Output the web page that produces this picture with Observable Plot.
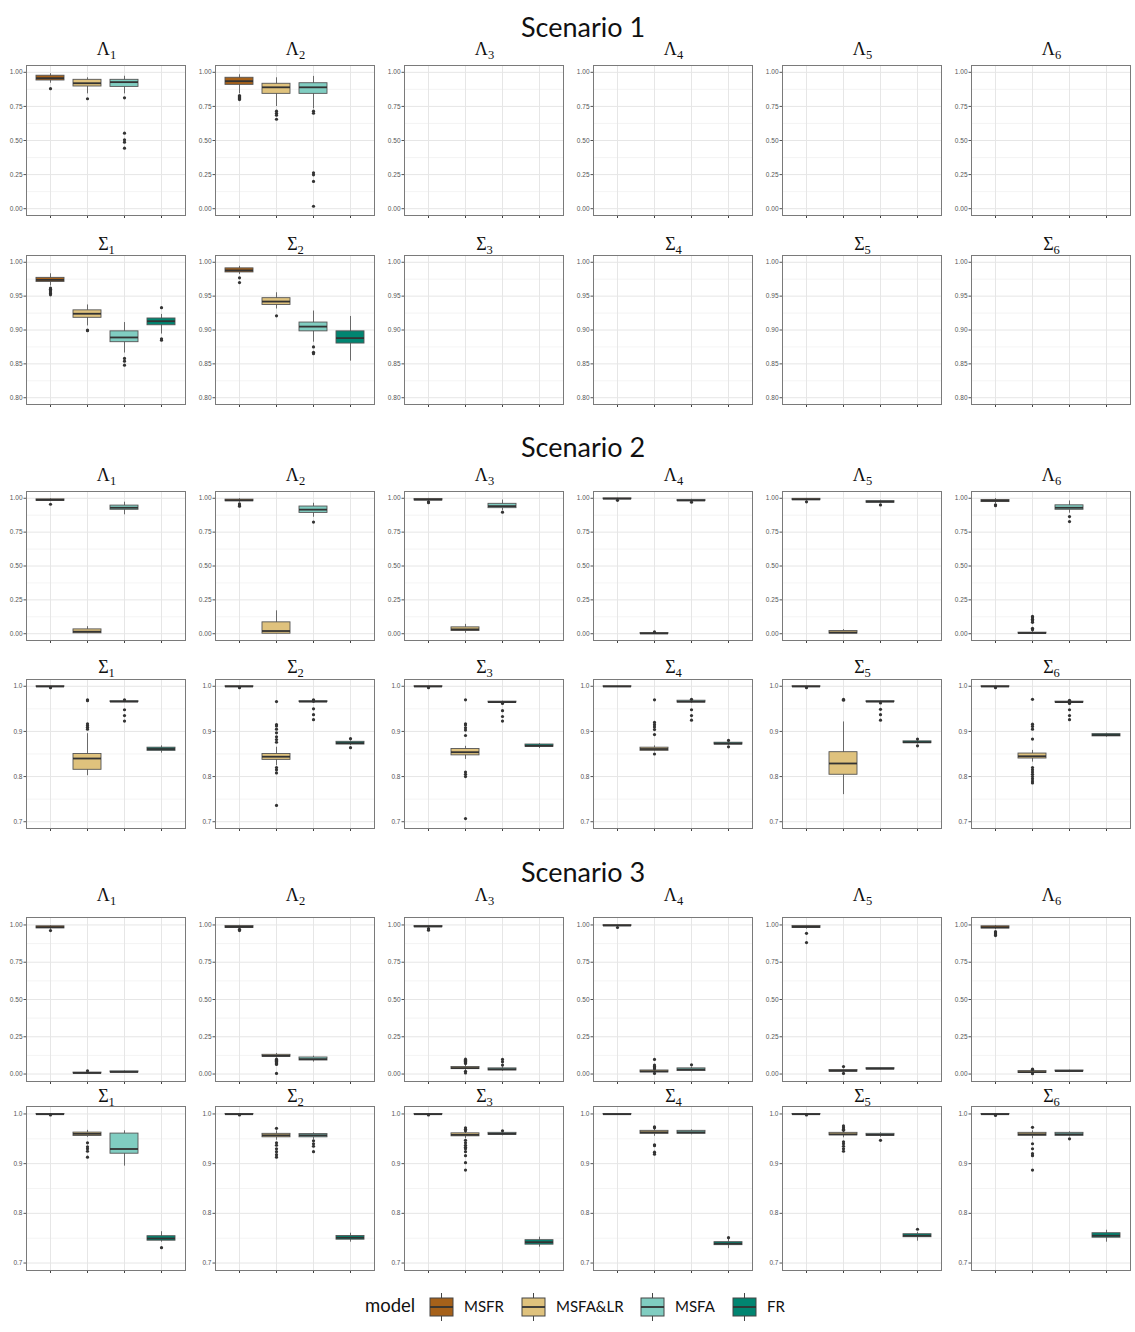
<!DOCTYPE html>
<html>
<head>
<meta charset="utf-8">
<script src="https://cdn.jsdelivr.net/npm/d3@7"></script>
<script src="https://cdn.jsdelivr.net/npm/@observablehq/plot@0.6"></script>
<style>
  body { margin: 0; background: #fff; }
  #root { position: relative; width: 1135px; height: 1332px; overflow: hidden; background: #fff; }
  .panel { position: absolute; }
  #overlay { position: absolute; left: 0; top: 0; pointer-events: none; }
</style>
</head>
<body>
<div id="root"></div>
<script>
// ---------- categories & styling ----------
const models = ["MSFR", "MSFA&LR", "MSFA", "FR"];
const colors = ["#a6611a", "#dfc27d", "#80cdc1", "#018571"];
const scenarios = ["Scenario 1", "Scenario 2", "Scenario 3"];
const panelIds = [1, 2, 3, 4, 5, 6];

// ---------- tick labels ----------
const lambdaTicks = [0, 0.25, 0.5, 0.75, 1];
const lambdaMinor = [0.125, 0.375, 0.625, 0.875];
const sigmaTicksS1 = [0.80, 0.85, 0.90, 0.95, 1.00];
const sigmaMinorS1 = [0.825, 0.875, 0.925, 0.975];
const sigmaTicks = [0.7, 0.8, 0.9, 1.0];
const sigmaMinor = [0.75, 0.85, 0.95];

// ---------- box statistics: [panel, model, lower whisker, q1, median, q3, upper whisker, outliers] ----------
const s1Lambda = [
  [1, "MSFR", 0.92, 0.94, 0.957, 0.975, 0.99, [0.88]],
  [1, "MSFA&LR", 0.842, 0.896, 0.92, 0.945, 0.96, [0.806]],
  [1, "MSFA", 0.842, 0.893, 0.928, 0.945, 0.971, [0.813, 0.554, 0.505, 0.488, 0.444]],
  [2, "MSFR", 0.842, 0.908, 0.935, 0.96, 0.982, [0.83, 0.822, 0.815, 0.808, 0.80]],
  [2, "MSFA&LR", 0.749, 0.842, 0.89, 0.916, 0.96, [0.715, 0.70, 0.686, 0.656]],
  [2, "MSFA", 0.732, 0.842, 0.89, 0.92, 0.97, [0.715, 0.70, 0.263, 0.248, 0.20, 0.018]]
];
const s1Sigma = [
  [1, "MSFR", 0.965, 0.971, 0.974, 0.977, 0.983, [0.962, 0.960, 0.958, 0.956, 0.954, 0.952]],
  [1, "MSFA&LR", 0.906, 0.918, 0.924, 0.929, 0.937, [0.900, 0.899]],
  [1, "MSFA", 0.866, 0.882, 0.889, 0.898, 0.911, [0.858, 0.854, 0.848]],
  [1, "FR", 0.894, 0.907, 0.913, 0.917, 0.923, [0.933, 0.887, 0.885]],
  [2, "MSFR", 0.982, 0.985, 0.988, 0.991, 0.994, [0.977, 0.970]],
  [2, "MSFA&LR", 0.931, 0.937, 0.942, 0.947, 0.955, [0.921]],
  [2, "MSFA", 0.882, 0.898, 0.905, 0.911, 0.928, [0.875, 0.867, 0.865]],
  [2, "FR", 0.854, 0.880, 0.888, 0.898, 0.920, []]
];
const s2Lambda = [
  [1, "MSFR", 0.975, 0.981, 0.988, 0.992, 0.997, [0.956]],
  [1, "MSFA&LR", 0.0, 0.003, 0.015, 0.032, 0.052, []],
  [1, "MSFA", 0.878, 0.915, 0.930, 0.946, 0.971, []],
  [2, "MSFR", 0.97, 0.978, 0.985, 0.99, 0.997, [0.958, 0.945, 0.942]],
  [2, "MSFA&LR", 0.0, 0.0, 0.02, 0.084, 0.169, []],
  [2, "MSFA", 0.86, 0.892, 0.916, 0.939, 0.963, [0.824]],
  [3, "MSFR", 0.978, 0.984, 0.99, 0.995, 0.999, [0.974, 0.967]],
  [3, "MSFA&LR", 0.003, 0.02, 0.032, 0.047, 0.069, []],
  [3, "MSFA", 0.91, 0.927, 0.942, 0.959, 0.987, [0.897]],
  [4, "MSFR", 0.99, 0.993, 0.997, 0.999, 1.0, [0.985]],
  [4, "MSFA&LR", 0.0, 0.0, 0.002, 0.005, 0.01, [0.013]],
  [4, "MSFA", 0.975, 0.979, 0.984, 0.988, 0.993, [0.971]],
  [5, "MSFR", 0.98, 0.986, 0.992, 0.996, 0.999, [0.974]],
  [5, "MSFA&LR", 0.0, 0.001, 0.009, 0.02, 0.03, []],
  [5, "MSFA", 0.96, 0.967, 0.975, 0.979, 0.985, [0.951]],
  [6, "MSFR", 0.96, 0.972, 0.982, 0.987, 0.998, [0.952, 0.945]],
  [6, "MSFA&LR", 0.0, 0.001, 0.005, 0.008, 0.02, [0.128, 0.118, 0.106, 0.096, 0.084, 0.04, 0.03]],
  [6, "MSFA", 0.89, 0.915, 0.93, 0.948, 0.98, [0.865, 0.828]]
];
const s2Sigma = [
  [1, "MSFR", 0.998, 0.999, 0.9995, 1.0, 1.0, [0.997]],
  [1, "MSFA&LR", 0.802, 0.815, 0.84, 0.85, 0.895, [0.97, 0.968, 0.917, 0.913, 0.909, 0.905]],
  [1, "MSFA", 0.964, 0.965, 0.966, 0.967, 0.968, [0.970, 0.948, 0.935, 0.923]],
  [1, "FR", 0.852, 0.857, 0.861, 0.864, 0.868, []],
  [2, "MSFR", 0.998, 0.999, 0.9995, 1.0, 1.0, [0.997]],
  [2, "MSFA&LR", 0.824, 0.837, 0.844, 0.85, 0.865, [0.966, 0.915, 0.912, 0.905, 0.897, 0.888, 0.882, 0.876, 0.82, 0.815, 0.808, 0.736]],
  [2, "MSFA", 0.963, 0.965, 0.966, 0.967, 0.968, [0.970, 0.967, 0.95, 0.937, 0.926]],
  [2, "FR", 0.869, 0.871, 0.874, 0.877, 0.879, [0.884, 0.864]],
  [3, "MSFR", 0.998, 0.999, 0.9995, 1.0, 1.0, [0.997]],
  [3, "MSFA&LR", 0.838, 0.847, 0.854, 0.861, 0.867, [0.97, 0.917, 0.914, 0.908, 0.903, 0.891, 0.81, 0.805, 0.80, 0.707]],
  [3, "MSFA", 0.963, 0.964, 0.965, 0.966, 0.967, [0.962, 0.946, 0.933, 0.923]],
  [3, "FR", 0.862, 0.866, 0.868, 0.871, 0.873, []],
  [4, "MSFR", 0.998, 0.999, 0.9995, 1.0, 1.0, []],
  [4, "MSFA&LR", 0.855, 0.857, 0.861, 0.864, 0.868, [0.97, 0.92, 0.915, 0.91, 0.904, 0.893, 0.85]],
  [4, "MSFA", 0.962, 0.964, 0.966, 0.968, 0.969, [0.971, 0.948, 0.935, 0.925]],
  [4, "FR", 0.869, 0.871, 0.873, 0.875, 0.877, [0.88, 0.866]],
  [5, "MSFR", 0.998, 0.999, 0.9995, 1.0, 1.0, [0.997]],
  [5, "MSFA&LR", 0.76, 0.804, 0.829, 0.854, 0.921, [0.971, 0.969]],
  [5, "MSFA", 0.964, 0.965, 0.966, 0.967, 0.968, [0.963, 0.949, 0.937, 0.925]],
  [5, "FR", 0.872, 0.874, 0.876, 0.878, 0.88, [0.883, 0.868]],
  [6, "MSFR", 0.998, 0.999, 0.9995, 1.0, 1.0, [0.997]],
  [6, "MSFA&LR", 0.832, 0.84, 0.845, 0.851, 0.858, [0.971, 0.916, 0.911, 0.905, 0.883, 0.82, 0.815, 0.81, 0.805, 0.80, 0.795, 0.79, 0.786]],
  [6, "MSFA", 0.963, 0.964, 0.965, 0.966, 0.968, [0.969, 0.962, 0.948, 0.935, 0.926]],
  [6, "FR", 0.887, 0.889, 0.892, 0.894, 0.896, []]
];
const s3Lambda = [
  [1, "MSFR", 0.97, 0.977, 0.985, 0.991, 0.995, [0.962]],
  [1, "MSFA&LR", 0.0, 0.004, 0.007, 0.01, 0.016, [0.022]],
  [1, "MSFA", 0.008, 0.011, 0.014, 0.018, 0.022, []],
  [2, "MSFR", 0.975, 0.98, 0.987, 0.993, 0.998, [0.971, 0.962]],
  [2, "MSFA&LR", 0.108, 0.116, 0.122, 0.129, 0.138, [0.1, 0.092, 0.085, 0.078, 0.07, 0.064, 0.004]],
  [2, "MSFA", 0.08, 0.091, 0.1, 0.111, 0.12, []],
  [3, "MSFR", 0.98, 0.985, 0.99, 0.993, 0.997, [0.975, 0.965]],
  [3, "MSFA&LR", 0.025, 0.033, 0.04, 0.047, 0.058, [0.1, 0.092, 0.085, 0.078, 0.07, 0.018, 0.007]],
  [3, "MSFA", 0.018, 0.024, 0.032, 0.038, 0.048, [0.098, 0.082, 0.06]],
  [4, "MSFR", 0.99, 0.993, 0.996, 0.999, 1.0, [0.983]],
  [4, "MSFA&LR", 0.008, 0.011, 0.018, 0.024, 0.03, [0.098, 0.06, 0.05, 0.042, 0.035, 0.004]],
  [4, "MSFA", 0.015, 0.02, 0.03, 0.038, 0.045, [0.062]],
  [5, "MSFR", 0.972, 0.98, 0.987, 0.993, 0.998, [0.944, 0.882]],
  [5, "MSFA&LR", 0.012, 0.016, 0.022, 0.027, 0.032, [0.05, 0.004]],
  [5, "MSFA", 0.029, 0.031, 0.036, 0.04, 0.042, []],
  [6, "MSFR", 0.968, 0.976, 0.984, 0.991, 0.997, [0.955, 0.948, 0.941, 0.935, 0.929]],
  [6, "MSFA&LR", 0.004, 0.007, 0.013, 0.02, 0.025, [0.033, 0.028, 0.002]],
  [6, "MSFA", 0.016, 0.018, 0.02, 0.024, 0.026, []]
];
const s3Sigma = [
  [1, "MSFR", 0.998, 0.999, 0.9995, 1.0, 1.0, [0.998]],
  [1, "MSFA&LR", 0.953, 0.9557, 0.96, 0.9625, 0.967, [0.942, 0.934, 0.93, 0.925, 0.913]],
  [1, "MSFA", 0.895, 0.92, 0.9295, 0.9605, 0.966, []],
  [1, "FR", 0.742, 0.745, 0.7495, 0.754, 0.763, [0.731]],
  [2, "MSFR", 0.998, 0.999, 0.9995, 1.0, 1.0, [0.998]],
  [2, "MSFA&LR", 0.947, 0.953, 0.957, 0.96, 0.966, [0.971, 0.942, 0.937, 0.93, 0.924, 0.918, 0.913]],
  [2, "MSFA", 0.948, 0.953, 0.957, 0.9595, 0.962, [0.946, 0.94, 0.935, 0.924]],
  [2, "FR", 0.742, 0.747, 0.751, 0.7545, 0.76, []],
  [3, "MSFR", 0.998, 0.999, 0.9995, 1.0, 1.0, [0.998]],
  [3, "MSFA&LR", 0.95, 0.955, 0.958, 0.961, 0.964, [0.972, 0.969, 0.966, 0.947, 0.942, 0.937, 0.933, 0.93, 0.924, 0.916, 0.902, 0.887]],
  [3, "MSFA", 0.956, 0.958, 0.96, 0.962, 0.964, [0.966]],
  [3, "FR", 0.732, 0.737, 0.742, 0.746, 0.752, []],
  [4, "MSFR", 0.998, 0.999, 0.9995, 1.0, 1.0, []],
  [4, "MSFA&LR", 0.955, 0.96, 0.963, 0.966, 0.969, [0.974, 0.972, 0.938, 0.936, 0.923, 0.919]],
  [4, "MSFA", 0.958, 0.96, 0.963, 0.966, 0.968, []],
  [4, "FR", 0.729, 0.736, 0.739, 0.742, 0.749, [0.751]],
  [5, "MSFR", 0.998, 0.999, 0.9995, 1.0, 1.0, [0.998]],
  [5, "MSFA&LR", 0.952, 0.957, 0.959, 0.962, 0.965, [0.976, 0.972, 0.969, 0.967, 0.944, 0.94, 0.935, 0.93, 0.925]],
  [5, "MSFA", 0.953, 0.956, 0.958, 0.96, 0.962, [0.947]],
  [5, "FR", 0.744, 0.752, 0.755, 0.758, 0.762, [0.768]],
  [6, "MSFR", 0.998, 0.999, 0.9995, 1.0, 1.0, [0.997]],
  [6, "MSFA&LR", 0.95, 0.956, 0.959, 0.962, 0.966, [0.973, 0.94, 0.93, 0.92, 0.916, 0.887]],
  [6, "MSFA", 0.954, 0.956, 0.959, 0.962, 0.964, [0.95]],
  [6, "FR", 0.742, 0.751, 0.755, 0.76, 0.766, []]
];

// ---------- layout ----------
const colLeft = [26, 215, 404, 593, 782, 971];
const frameW = 159;
const rowsSpec = [
  { rows: s1Lambda, sym: "Λ", top: 65,   h: 150, titleY: 55,   domain: [-0.05, 1.05],  ticks: lambdaTicks,  minor: lambdaMinor,  fmt: ".2f" },
  { rows: s1Sigma,  sym: "Σ", top: 255,  h: 149, titleY: 250,  domain: [0.79, 1.01],   ticks: sigmaTicksS1, minor: sigmaMinorS1, fmt: ".2f" },
  { rows: s2Lambda, sym: "Λ", top: 491,  h: 149, titleY: 481,  domain: [-0.05, 1.05],  ticks: lambdaTicks,  minor: lambdaMinor,  fmt: ".2f" },
  { rows: s2Sigma,  sym: "Σ", top: 679,  h: 149, titleY: 673,  domain: [0.685, 1.015], ticks: sigmaTicks,   minor: sigmaMinor,   fmt: ".1f" },
  { rows: s3Lambda, sym: "Λ", top: 917,  h: 164, titleY: 901,  domain: [-0.05, 1.05],  ticks: lambdaTicks,  minor: lambdaMinor,  fmt: ".2f" },
  { rows: s3Sigma,  sym: "Σ", top: 1106, h: 164, titleY: 1102, domain: [0.685, 1.015], ticks: sigmaTicks,   minor: sigmaMinor,   fmt: ".1f" }
];
const scenarioY = [37, 457, 882];

const root = document.getElementById("root");
const ML = 26, MR = 4, MT = 2, MB = 7;

function drawPanel(spec, p, ci) {
  const data = spec.rows.filter(r => r[0] === p).map(r => ({
    model: r[1], lo: r[2], q1: r[3], med: r[4], q3: r[5], hi: r[6], out: r[7]
  }));
  const outs = data.flatMap(d => d.out.map(v => ({ model: d.model, v })));
  const svg = Plot.plot({
    width: ML + frameW + MR,
    height: MT + spec.h + MB,
    marginLeft: ML, marginRight: MR, marginTop: MT, marginBottom: MB,
    x: { domain: models, paddingInner: 0.25, paddingOuter: 0.225 },
    y: { domain: spec.domain },
    color: { domain: models, range: colors },
    style: { background: "transparent", overflow: "visible", fontFamily: "'Liberation Sans', Arial, sans-serif" },
    marks: [
      Plot.gridY(spec.minor, { stroke: "#ececec", strokeOpacity: 1, strokeWidth: 0.6 }),
      Plot.gridY(spec.ticks, { stroke: "#e6e6e6", strokeOpacity: 1, strokeWidth: 1 }),
      Plot.gridX(models, { stroke: "#e6e6e6", strokeOpacity: 1, strokeWidth: 1 }),
      Plot.ruleX(data, { x: "model", y1: "lo", y2: "hi", stroke: "#4a4a4a", strokeWidth: 0.8 }),
      Plot.barY(data, { x: "model", y1: "q1", y2: "q3", fill: "model", stroke: "#555", strokeWidth: 0.9 }),
      Plot.tickY(data, { x: "model", y: "med", stroke: "#333", strokeWidth: 1.8 }),
      Plot.dot(outs, { x: "model", y: "v", r: 1.6, fill: "#333", stroke: "none" }),
      Plot.axisY(spec.ticks, { tickFormat: d3.format(spec.fmt), tickSize: 2.5, tickPadding: 1.5, fontSize: 6.5, color: "#555", label: null }),
      Plot.axisX(models, { tickSize: 3, tickFormat: () => "", color: "#444", label: null }),
      Plot.frame({ stroke: "#7a7a7a", strokeWidth: 1 })
    ]
  });
  svg.querySelectorAll('g[aria-label="x-axis tick label"]').forEach(g => g.remove());
  svg.classList.add("panel");
  svg.style.left = (colLeft[ci] - ML) + "px";
  svg.style.top = (spec.top - MT) + "px";
  root.appendChild(svg);
}

rowsSpec.forEach(spec => panelIds.forEach((p, ci) => drawPanel(spec, p, ci)));

// ---------- overlay: titles, panel labels, legend ----------
const ov = d3.select(root).append("svg").attr("id", "overlay").attr("width", 1135).attr("height", 1332);

scenarios.forEach((s, i) => {
  ov.append("text").attr("x", 583).attr("y", scenarioY[i]).attr("text-anchor", "middle")
    .attr("font-family", "Lato, 'Open Sans', sans-serif").attr("font-size", 27).attr("fill", "#111").text(s);
});

rowsSpec.forEach(spec => {
  panelIds.forEach((p, ci) => {
    const t = ov.append("text").attr("x", colLeft[ci] + frameW / 2 + 1).attr("y", spec.titleY)
      .attr("text-anchor", "middle").attr("font-family", "'Liberation Serif', 'DejaVu Serif', serif")
      .attr("font-size", 18).attr("fill", "#111");
    t.append("tspan").text(spec.sym);
    t.append("tspan").attr("font-size", 12.5).attr("dy", 4).text(String(p));
  });
});

// legend
const lg = ov.append("g");
lg.append("text").attr("x", 365).attr("y", 1312).attr("font-family", "Lato, 'Open Sans', sans-serif")
  .attr("font-size", 18.5).attr("fill", "#111").text("model");
const keyX = [430, 522, 641, 733];
models.forEach((m, i) => {
  const x = keyX[i];
  const g = lg.append("g");
  g.append("line").attr("x1", x + 11.5).attr("x2", x + 11.5).attr("y1", 1293).attr("y2", 1321).attr("stroke", "#444").attr("stroke-width", 1);
  g.append("rect").attr("x", x).attr("y", 1298).attr("width", 23).attr("height", 18).attr("fill", colors[i]).attr("stroke", "#444").attr("stroke-width", 1);
  g.append("line").attr("x1", x).attr("x2", x + 23).attr("y1", 1307).attr("y2", 1307).attr("stroke", "#333").attr("stroke-width", 1.8);
  lg.append("text").attr("x", x + 34).attr("y", 1312).attr("font-family", "Lato, 'Open Sans', sans-serif")
    .attr("font-size", 15).attr("fill", "#111").text(m);
});
</script>
</body>
</html>
